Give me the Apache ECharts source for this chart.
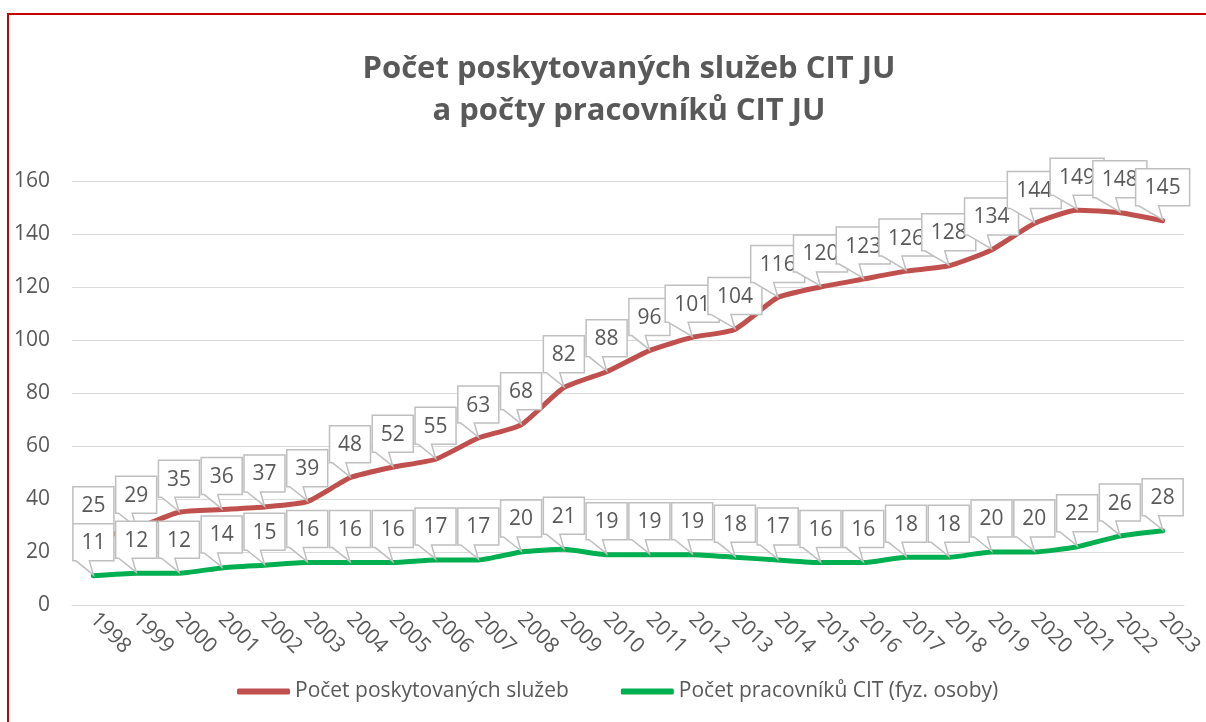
<!DOCTYPE html>
<html>
<head>
<meta charset="utf-8">
<script src="https://cdn.jsdelivr.net/npm/echarts@6/dist/echarts.min.js"></script>
<style>
html,body{margin:0;padding:0;background:#fff;overflow:hidden;}
#wrap{position:relative;width:1206px;height:722px;}
#chart{position:absolute;left:0;top:0;width:1206px;height:722px;}
#frame{position:absolute;left:7px;top:13px;width:1300px;height:800px;border:2px solid #C80000;pointer-events:none;}
</style>
</head>
<body>
<div id="wrap"><div id="chart"></div><div id="frame"></div></div>
<script>
const years = ['1998','1999','2000','2001','2002','2003','2004','2005','2006','2007','2008','2009','2010','2011','2012','2013','2014','2015','2016','2017','2018','2019','2020','2021','2022','2023'];
const sluzby = [25,29,35,36,37,39,48,52,55,63,68,82,88,96,101,104,116,120,123,126,128,134,144,149,148,145];
const pracovnici = [11,12,12,14,15,16,16,16,17,17,20,21,19,19,19,18,17,16,16,18,18,20,20,22,26,28];
const seriesNames = ['Počet poskytovaných služeb','Počet pracovníků CIT (fyz. osoby)'];
const titleLines = ['Počet poskytovaných služeb CIT JU','a počty pracovníků CIT JU'];

const FONT = '"Open Sans", "Noto Sans", sans-serif';
const TXT = '#595959';

function callout(params, api) {
  const xi = api.value(0), v = api.value(1);
  const p = api.coord([xi, v]);
  const txt = String(v);
  const w = txt.length >= 3 ? 54 : 41, h = 37, gap = 15;
  const L = p[0] - w / 2, R = L + w, B = p[1] - gap, T = B - h;
  const a = L + 3, b = p[0] - 4;
  return {
    type: 'group',
    children: [
      {type: 'polygon', shape: {points: [[L,T],[R,T],[R,B],[b,B],[p[0],p[1]-1],[a,B],[L,B]]},
       style: {fill: '#ffffff', stroke: '#BFBFBF', lineWidth: 1.5}},
      {type: 'text', style: {text: txt, x: p[0], y: T + h / 2 + 1, textAlign: 'center', textVerticalAlign: 'middle',
        fontSize: 21, fontFamily: FONT, fill: TXT}}
    ]
  };
}

const chart = echarts.init(document.getElementById('chart'));
chart.setOption({
  animation: false,
  backgroundColor: '#ffffff',
  graphic: [{
    type: 'text', x: 629, y: 48,
    style: {text: titleLines.join('\n'), textAlign: 'center', textVerticalAlign: 'top',
      fontSize: 31, fontWeight: 'bold', fontFamily: FONT, fill: TXT, lineHeight: 42}
  }],
  grid: {left: 72, right: 15, top: 181, bottom: 117},
  legend: {
    data: seriesNames, top: 676, left: 232, itemGap: 52,
    icon: 'roundRect', itemWidth: 53, itemHeight: 6,
    textStyle: {fontSize: 21, fontFamily: FONT, color: TXT}
  },
  xAxis: {
    type: 'category', data: years, boundaryGap: true,
    axisLine: {lineStyle: {color: '#D9D9D9', width: 1}},
    axisTick: {show: false},
    axisLabel: {rotate: -45, fontSize: 21, fontFamily: FONT, color: TXT, margin: 11, interval: 0}
  },
  yAxis: {
    type: 'value', min: 0, max: 160, interval: 20,
    axisLine: {show: false}, axisTick: {show: false},
    splitLine: {lineStyle: {color: '#D9D9D9', width: 1}},
    axisLabel: {fontSize: 21, fontFamily: FONT, color: TXT, margin: 22}
  },
  series: [
    {name: seriesNames[0], type: 'line', data: sluzby, smooth: 0.18, symbol: 'none', z: 2,
     color: '#C0504D', lineStyle: {width: 5, color: '#C0504D', cap: 'round'}},
    {name: seriesNames[1], type: 'line', data: pracovnici, smooth: 0.18, symbol: 'none', z: 2,
     color: '#00B050', lineStyle: {width: 5, color: '#00B050', cap: 'round'}},
    {name: 'lbl1', type: 'custom', renderItem: callout, clip: false, z: 3,
     data: sluzby.map((v, i) => [i, v]), encode: {x: 0, y: 1}, silent: true},
    {name: 'lbl2', type: 'custom', renderItem: callout, clip: false, z: 4,
     data: pracovnici.map((v, i) => [i, v]), encode: {x: 0, y: 1}, silent: true}
  ]
});
</script>
</body>
</html>
